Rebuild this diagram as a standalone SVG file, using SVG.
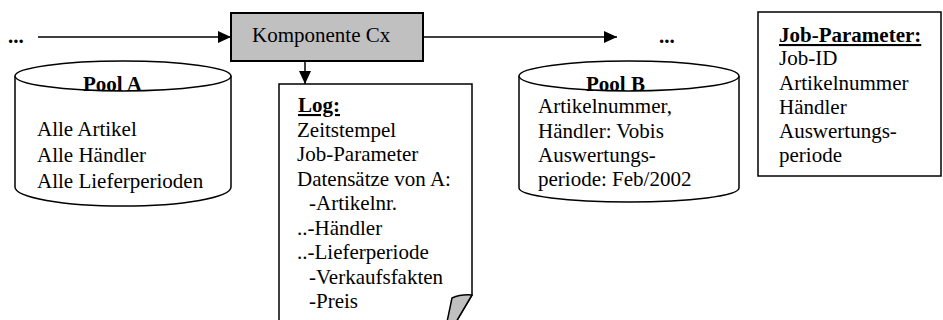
<svg xmlns="http://www.w3.org/2000/svg" width="943" height="320" viewBox="0 0 943 320">
<defs>
<marker id="ah" viewBox="0 0 13 12" refX="13" refY="6" markerWidth="13" markerHeight="12" markerUnits="userSpaceOnUse" orient="auto">
<path d="M0,0 L13,6 L0,12 Z" fill="#000"/>
</marker>
<style>
text{font-family:"Liberation Serif","Times New Roman",serif;font-size:21px;fill:#000}
.b{font-weight:bold}
.u{text-decoration:underline}
.shape{fill:#fff;stroke:#000;stroke-width:1.5}
.conn{stroke:#000;stroke-width:1.5;fill:none}
</style>
</defs>
<rect width="943" height="320" fill="#fff"/>
<g id="connectors">
<line class="conn" x1="38" y1="37" x2="231" y2="37" marker-end="url(#ah)"/>
<line class="conn" x1="424" y1="37" x2="617" y2="37" marker-end="url(#ah)"/>
<line class="conn" x1="305" y1="61" x2="305" y2="84" marker-end="url(#ah)"/>
</g>
<g id="dots-left"><text class="b" x="8" y="43">...</text></g>
<g id="dots-right"><text class="b" x="659" y="43">...</text></g>
<g id="komponente">
<rect x="231" y="13" width="192" height="48" fill="#c0c0c0" stroke="#000" stroke-width="2"/>
<text x="252" y="42">Komponente Cx</text>
</g>
<g id="poolA">
<path class="shape" d="M15,76 V187 A108,19 0 0 0 231,187 V76"/>
<ellipse class="shape" cx="123" cy="76" rx="108" ry="15"/>
<text class="b" x="83" y="91">Pool A</text>
<text x="37" y="136">Alle Artikel</text>
<text x="37" y="162">Alle Händler</text>
<text x="37" y="188">Alle Lieferperioden</text>
</g>
<g id="log">
<path class="shape" d="M279,322 V84 H472 V295 L456,322"/>
<path d="M472,295 Q461,294 452,298 L447,322 L456,322 Z" fill="#c0c0c0" stroke="#000" stroke-width="1.5" stroke-linejoin="round"/>
<text class="b u" x="298" y="112">Log:</text>
<text x="297" y="136.5">Zeitstempel</text>
<text x="297" y="161">Job-Parameter</text>
<text x="297" y="185.5">Datensätze von A:</text>
<text x="309" y="210">-Artikelnr.</text>
<text x="297" y="234.5">..-Händler</text>
<text x="297" y="259">..-Lieferperiode</text>
<text x="309" y="283.5">-Verkaufsfakten</text>
<text x="309" y="308">-Preis</text>
</g>
<g id="poolB">
<path class="shape" d="M519,76 V188 A110,14 0 0 0 739,188 V76"/>
<ellipse class="shape" cx="629" cy="76" rx="110" ry="15"/>
<text class="b" x="586" y="91">Pool B</text>
<text x="538" y="113">Artikelnummer,</text>
<text x="538" y="138">Händler: Vobis</text>
<text x="538" y="162">Auswertungs-</text>
<text x="538" y="186">periode: Feb/2002</text>
</g>
<g id="jobparameter">
<rect class="shape" x="758" y="12" width="183" height="164"/>
<text class="b u" x="779" y="42">Job-Parameter:</text>
<text x="779" y="65">Job-ID</text>
<text x="779" y="90">Artikelnummer</text>
<text x="779" y="114">Händler</text>
<text x="779" y="138">Auswertungs-</text>
<text x="779" y="162">periode</text>
</g>
</svg>
